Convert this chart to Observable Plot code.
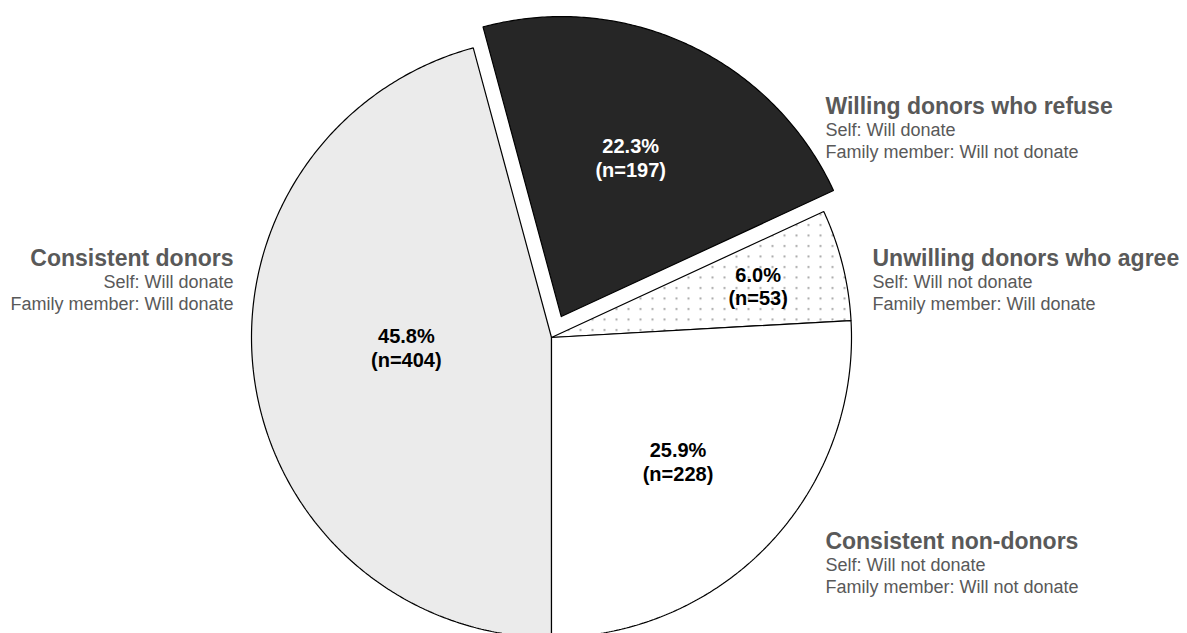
<!DOCTYPE html>
<html><head><meta charset="utf-8">
<script src="https://cdn.jsdelivr.net/npm/d3@7"></script>
<script src="https://cdn.jsdelivr.net/npm/@observablehq/plot@0.6"></script>
<style>
body{margin:0;background:#fff;overflow:hidden}
</style>
</head><body><div id="chart"></div>
<script>
// ---- data ----
const categories = ["Consistent donors", "Willing donors who refuse", "Unwilling donors who agree", "Consistent non-donors"];
const percents = [45.8, 22.3, 6.0, 25.9];
const counts = [404, 197, 53, 228];
const selfAnswers = ["Will donate", "Will donate", "Will not donate", "Will not donate"];
const familyAnswers = ["Will donate", "Will not donate", "Will donate", "Will not donate"];
const explodedCategories = ["Willing donors who refuse"];

// ---- styling / layout ----
const fills = ["#ebebeb", "#262626", "url(#dots)", "#ffffff"];
const labelColors = ["#000000", "#ffffff", "#000000", "#000000"];
const labelRadius = [0.485, 0.58, 0.71, 0.59];
const labelAngleShift = [3.5, -1.5, 0, 1]; // degrees
const explodeDist = 0.077;
// callout anchor (in pie units) and text-anchor per category
const callouts = [
  {x: -1.06, y: 0.263, anchor: "end"},
  {x: 0.913, y: 0.770, anchor: "start"},
  {x: 1.07, y: 0.263, anchor: "start"},
  {x: 0.913, y: -0.68, anchor: "start"}
];

const total = d3.sum(percents);
let acc = 0;
const slices = categories.map((c, i) => {
  const a0 = Math.PI + acc / total * 2 * Math.PI;
  acc += percents[i];
  const a1 = Math.PI + acc / total * 2 * Math.PI;
  const mid = (a0 + a1) / 2;
  const off = explodedCategories.includes(c) ? explodeDist : 0;
  return {category: c, i, a0, a1, mid, ox: off * Math.sin(mid), oy: off * Math.cos(mid)};
});

function wedge(s) {
  const pts = [{x: s.ox, y: s.oy}];
  const n = Math.max(8, Math.ceil((s.a1 - s.a0) / (Math.PI / 360)));
  for (let k = 0; k <= n; k++) {
    const a = s.a0 + (s.a1 - s.a0) * k / n;
    pts.push({x: s.ox + Math.sin(a), y: s.oy + Math.cos(a)});
  }
  pts.push({x: s.ox, y: s.oy});
  return pts;
}

const labels = slices.map(s => {
  const a = s.mid + labelAngleShift[s.i] * Math.PI / 180;
  return {
    x: s.ox + labelRadius[s.i] * Math.sin(a),
    y: s.oy + labelRadius[s.i] * Math.cos(a),
    text: `${percents[s.i].toFixed(1)}%\n(n=${counts[s.i]})`,
    color: labelColors[s.i]
  };
});

const calloutData = categories.map((c, i) => ({...callouts[i], title: c, self: `Self: ${selfAnswers[i]}`, family: `Family member: ${familyAnswers[i]}`}));

const marks = [];
slices.forEach(s => {
  marks.push(Plot.line(wedge(s), {x: "x", y: "y", fill: fills[s.i], stroke: "#000", strokeWidth: 1.2, strokeLinejoin: "miter"}));
});
marks.push(Plot.text(labels, {x: "x", y: "y", text: "text", fill: "color", fontSize: 20, fontWeight: "bold", lineHeight: 1.2}));
for (const anchor of ["start", "end"]) {
  const d = calloutData.filter(c => c.anchor === anchor);
  marks.push(Plot.text(d, {x: "x", y: "y", text: "title", textAnchor: anchor, fontSize: 23, fontWeight: "bold", fill: "#595959"}));
  marks.push(Plot.text(d, {x: "x", y: "y", text: "self", dy: 24, textAnchor: anchor, fontSize: 18, fill: "#595959"}));
  marks.push(Plot.text(d, {x: "x", y: "y", text: "family", dy: 46, textAnchor: anchor, fontSize: 18, fill: "#595959"}));
}

const chart = Plot.plot({
  width: 1187,
  height: 633,
  margin: 0,
  style: {fontFamily: "'Liberation Sans', Arial, sans-serif", background: "#ffffff"},
  x: {domain: [-1, 1], range: [251, 851], axis: null},
  y: {domain: [-1, 1], range: [637, 37], axis: null},
  marks
});

const ns = "http://www.w3.org/2000/svg";
const defs = document.createElementNS(ns, "defs");
defs.innerHTML = `<pattern id="dots" width="12" height="10.5" patternUnits="userSpaceOnUse">
  <rect width="12" height="10.5" fill="#ffffff"/>
  <rect x="3" y="3" width="2" height="2" fill="#aaaaaa"/>
</pattern>`;
chart.insertBefore(defs, chart.firstChild);
document.getElementById("chart").appendChild(chart);
</script>
</body></html>
